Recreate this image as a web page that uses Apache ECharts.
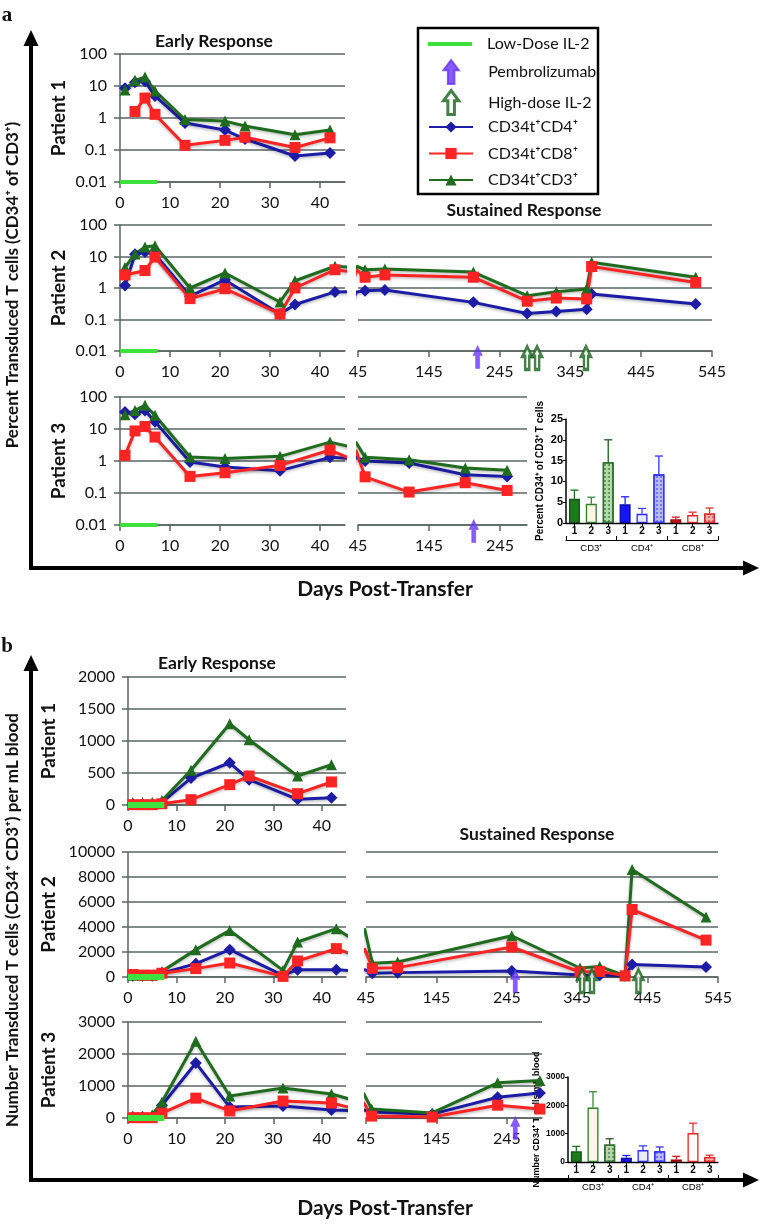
<!DOCTYPE html>
<html><head><meta charset="utf-8">
<script src="https://cdn.jsdelivr.net/npm/echarts@6/dist/echarts.min.js"></script>
<style>html,body{margin:0;padding:0;background:#fff}#c{width:767px;height:1226px}</style>
</head><body><div id="c"></div><script>
// ================= DATA =================
// Panel a : percent transduced T cells (CD34+ of CD3+), log scale
const aP1Days = [1, 3, 5, 7, 13, 21, 25, 35, 42];
const aP1CD4  = [8.5, 13, 14, 4.9, 0.7, 0.42, 0.22, 0.065, 0.08];
const aP1CD8  = [null, 1.6, 4.2, 1.3, 0.14, 0.2, 0.25, 0.12, 0.24];
const aP1CD3  = [7.5, 15, 19, 7, 0.9, 0.8, 0.56, 0.3, 0.42];

const aP2Days = [1, 3, 5, 7, 14, 21, 32, 35, 43, 55, 83, 208, 284, 325, 368, 375, 522];
const aP2CD4  = [1.2, 11.7, 14, 12, 0.55, 1.8, 0.15, 0.3, 0.75, 0.82, 0.86, 0.35, 0.155, 0.18, 0.21, 0.64, 0.31];
const aP2CD8  = [2.6, null, 3.6, 9.6, 0.46, 0.95, 0.15, 1.0, 3.8, 2.2, 2.6, 2.2, 0.38, 0.48, 0.45, 4.8, 1.5];
const aP2CD3  = [4.5, 12, 20, 22, 1.0, 3.0, 0.36, 1.7, 4.9, 3.8, 4.0, 3.2, 0.57, 0.76, 0.93, 6.6, 2.2];

const aP3Days = [1, 3, 5, 7, 14, 21, 32, 42, 55, 117, 196, 255];
const aP3CD4  = [34, 29, 38, 17, 0.93, 0.65, 0.5, 1.3, 1.0, 0.87, 0.37, 0.33];
const aP3CD8  = [1.5, 8.7, 12, 5.6, 0.33, 0.43, 0.73, 2.2, 0.32, 0.107, 0.21, 0.12];
const aP3CD3  = [28, 38, 55, 27, 1.33, 1.2, 1.4, 3.9, 1.3, 1.1, 0.6, 0.51];

// Panel b : number of transduced T cells per mL blood
const bP1Days = [1, 3, 5, 7, 13, 21, 25, 35, 42];
const bP1CD4  = [10, 10, 10, 40, 420, 660, 395, 89, 115];
const bP1CD8  = [5, 5, 5, 20, 83, 318, 453, 177, 360];
const bP1CD3  = [40, 40, 40, 70, 542, 1270, 1020, 453, 630];

const bP2Days = [1, 3, 5, 7, 14, 21, 32, 35, 43, 54, 90, 252, 349, 377, 413, 423, 528];
const bP2CD4  = [100, 100, 100, 300, 1070, 2190, 130, 590, 590, 300, 350, 480, 160, 150, 100, 1000, 800];
const bP2CD8  = [200, 150, 150, 300, 670, 1120, 50, 1280, 2270, 700, 750, 2400, 400, 450, 100, 5400, 2950];
const bP2CD3  = [150, 150, 150, 450, 2190, 3730, 530, 2800, 3870, 1100, 1200, 3300, 720, 850, 100, 8600, 4800];

const bP3Days = [1, 3, 5, 7, 14, 21, 32, 42, 53, 139, 232, 292];
const bP3CD4  = [30, 30, 30, 400, 1720, 340, 375, 250, 190, 120, 650, 780];
const bP3CD8  = [10, 10, 10, 150, 620, 220, 530, 470, 60, 30, 400, 280];
const bP3CD3  = [40, 40, 100, 500, 2400, 690, 940, 750, 280, 160, 1100, 1170];

// Treatments
const lowDoseDays = [0, 7.5];
const aP2PembroDays = [214];
const aP2HighDoseDays = [284, 298, 367];
const aP3PembroDays = [208];
const bP2PembroDays = [257];
const bP2HighDoseDays = [352, 366, 432];
const bP3PembroDays = [257];

// Inset bar charts
const barLabels = ['1', '2', '3', '1', '2', '3', '1', '2', '3'];
const barKeys = ['CD3-1', 'CD3-2', 'CD3-3', 'CD4-1', 'CD4-2', 'CD4-3', 'CD8-1', 'CD8-2', 'CD8-3'];
const groupLabels = ['CD3⁺', 'CD4⁺', 'CD8⁺'];
const insetAValues = [5.8, 4.6, 14.6, 4.5, 2.2, 11.7, 0.9, 1.9, 2.3];
const insetAErrors = [2.1, 1.6, 5.4, 1.8, 1.3, 4.4, 0.5, 0.7, 1.3];
const insetBValues = [380, 1920, 620, 150, 420, 380, 90, 1020, 180];
const insetBErrors = [170, 560, 200, 80, 150, 150, 110, 350, 60];

// Axis tick labels
const earlyTicks = [0, 10, 20, 30, 40];
const sustTicksLong = [45, 145, 245, 345, 445, 545];
const sustTicksShort = [45, 145, 245];

// ================= STYLE =================
const FONT = 'Lato, "Noto Sans", sans-serif';
const ARIAL = '"Liberation Sans", Arial, sans-serif';
const GC = '#5b6464';
const C4 = '#1c1ca6', C8 = '#ff2424', C3 = '#1f6c1f', LOWC = '#3ee23e', PEMC = '#6633ff';
const N4 = 'CD34t⁺CD4⁺', N8 = 'CD34t⁺CD8⁺', N3 = 'CD34t⁺CD3⁺';
const N_LOW = 'Low-Dose IL-2', N_PEM = 'Pembrolizumab', N_HD = 'High-dose IL-2';
const ARROW = 'path://M7,0 L14,9.5 L10,9.5 L10,22 L4,22 L4,9.5 L0,9.5 Z';

const G = [
  {left:120, top:54,  width:225, height:128},  //0 aP1 early
  {left:120, top:225, width:225, height:126},  //1 aP2 early
  {left:358, top:225, width:354, height:126},  //2 aP2 sustained
  {left:120, top:397, width:225, height:128},  //3 aP3 early
  {left:358, top:397, width:169, height:128},  //4 aP3 sustained
  {left:566, top:419, width:152, height:104},  //5 inset a
  {left:128, top:677, width:218, height:128},  //6 bP1 early
  {left:128, top:852, width:218, height:125},  //7 bP2 early
  {left:366, top:852, width:352, height:125},  //8 bP2 sustained
  {left:128, top:1022,width:218, height:96},   //9 bP3 early
  {left:366, top:1022,width:176, height:96},   //10 bP3 sustained
  {left:568, top:1077,width:150, height:85}    //11 inset b
];

const axisLineGray = {show:true, lineStyle:{color:GC, width:1.5}};
const lbl = (extra) => Object.assign({fontSize:16, color:'#111', fontFamily:FONT}, extra || {});

function earlyX(g){
  return {gridIndex:g, type:'value', min:0, max:45,
    axisLine:axisLineGray,
    axisTick:{show:true, length:6, customValues:earlyTicks, lineStyle:{color:GC, width:1.5}},
    axisLabel:lbl({customValues:earlyTicks, margin:13}),
    splitLine:{show:false}};
}
function sustX(g, max, ticks){
  return {gridIndex:g, type:'value', min:45, max:max,
    axisLine:axisLineGray,
    axisTick:{show:true, length:6, customValues:ticks, lineStyle:{color:GC, width:1.5}},
    axisLabel:lbl({customValues:ticks, margin:13}),
    splitLine:{show:false}};
}
function fmtNum(v){ return String(+(+v).toPrecision(3)); }
function yEarly(g, base, name, nameGap){
  const o = {gridIndex:g, name:name, nameLocation:'middle', nameRotate:90, nameGap:nameGap,
    nameTextStyle:{fontSize:19, fontWeight:'bold', color:'#111', fontFamily:FONT},
    axisLine:axisLineGray,
    axisTick:{show:true, length:6, lineStyle:{color:GC, width:1.5}},
    axisLabel:lbl({margin:13, formatter:fmtNum}),
    splitLine:{show:true, lineStyle:{color:GC, width:1.5}}};
  return Object.assign(o, base);
}
function ySust(g, base){
  return Object.assign({gridIndex:g, axisLine:{show:false}, axisTick:{show:false},
    axisLabel:{show:false}, splitLine:{show:true, lineStyle:{color:GC, width:1.5}}}, base);
}
const LOG = {type:'log', logBase:10, min:0.01, max:100};

const xAxis = [
  earlyX(0), earlyX(1), sustX(2, 545, sustTicksLong), earlyX(3), sustX(4, 283, sustTicksShort),
  null,
  earlyX(6), earlyX(7), sustX(8, 545, sustTicksLong), earlyX(9), sustX(10, 295, sustTicksShort),
  null
];
const yAxis = [
  yEarly(0, LOG, 'Patient 1', 52), yEarly(1, LOG, 'Patient 2', 52), ySust(2, LOG),
  yEarly(3, LOG, 'Patient 3', 52), ySust(4, LOG),
  null,
  yEarly(6, {type:'value', min:0, max:2000, interval:500}, 'Patient 1', 70),
  yEarly(7, {type:'value', min:0, max:10000, interval:2000}, 'Patient 2', 70),
  ySust(8, {type:'value', min:0, max:10000, interval:2000}),
  yEarly(9, {type:'value', min:0, max:3000, interval:1000}, 'Patient 3', 70),
  ySust(10, {type:'value', min:0, max:3000, interval:1000}),
  null
];

function insetX(g){
  return {gridIndex:g, type:'category', data:barKeys,
    axisLine:{show:true, lineStyle:{color:'#000', width:1.3}},
    axisTick:{show:true, alignWithLabel:true, length:3, lineStyle:{color:'#000'}},
    axisLabel:{formatter:(v, i) => barLabels[i], fontSize:10, fontWeight:'bold', color:'#000', fontFamily:ARIAL, margin:3, interval:0}};
}
function insetGroupX(g){
  return {gridIndex:g, type:'category', data:groupLabels, position:'bottom', offset:17,
    axisLine:{show:true, lineStyle:{color:'#000', width:1}},
    axisTick:{show:true, length:-4, lineStyle:{color:'#000'}},
    axisLabel:{fontSize:9.5, color:'#000', fontFamily:ARIAL, margin:3, interval:0}};
}
function insetY(g, max, interval, name, gap, fs, nfs){
  return {gridIndex:g, type:'value', min:0, max:max, interval:interval, name:name,
    nameLocation:'middle', nameRotate:90, nameGap:gap,
    nameTextStyle:{fontSize:nfs, fontWeight:'bold', color:'#000', fontFamily:ARIAL},
    axisLine:{show:true, lineStyle:{color:'#000', width:1.5}},
    axisTick:{show:true, length:3, lineStyle:{color:'#000'}},
    axisLabel:{fontSize:fs, fontWeight:'bold', color:'#000', fontFamily:ARIAL, margin:3, formatter:(v)=>String(v)},
    splitLine:{show:false}};
}
xAxis[5] = insetX(5); xAxis[11] = insetX(11);
yAxis[5] = insetY(5, 25, 5, 'Percent CD34⁺ of CD3⁺ T cells', 21, 11, 10);
yAxis[11] = insetY(11, 3000, 1000, 'Number CD34⁺ T cells/mL blood', 27, 8.5, 9);
xAxis.push(insetGroupX(5));   // 12
xAxis.push(insetGroupX(11));  // 13

// ================= SERIES =================
function pairs(days, vals){
  const out = [];
  days.forEach((d, i) => { if (vals[i] != null) out.push([d, vals[i]]); });
  return out;
}
const shadow = {shadowColor:'rgba(0,0,0,0.28)', shadowBlur:3, shadowOffsetY:1.5};
function mk(name, color, symbol, size, data, ai){
  return {type:'line', name:name, xAxisIndex:ai, yAxisIndex:ai, data:data,
    symbol:symbol, symbolSize:size, clip:true, z:3,
    lineStyle:Object.assign({color:color, width:3}, shadow),
    itemStyle:{color:color}, emphasis:{disabled:true}, animation:false};
}
function trio(days, cd4, cd8, cd3, ai){
  return [
    mk(N4, C4, 'diamond', 12, pairs(days, cd4), ai),
    mk(N3, C3, 'triangle', 11, pairs(days, cd3), ai),
    mk(N8, C8, 'rect', 11, pairs(days, cd8), ai)
  ];
}
function lowDose(ai, y, w){
  return {type:'line', name:N_LOW, xAxisIndex:ai, yAxisIndex:ai,
    data:lowDoseDays.map(d => [d, y]), symbol:'none', z:4,
    lineStyle:{color:LOWC, width:w}, itemStyle:{color:LOWC}, animation:false, clip:false};
}
function arrows(name, ai, days, y, hollow, off){
  return {type:'scatter', name:name, xAxisIndex:ai, yAxisIndex:ai,
    data:days.map(d => [d, y]), symbol:ARROW, symbolSize:[15, 23], symbolKeepAspect:true,
    symbolOffset:[0, off], clip:false, z:5,
    itemStyle: hollow ? {color:'#fff', borderColor:'#17601a', borderWidth:3}
                      : {color:PEMC, borderColor:PEMC, borderWidth:0.5},
    emphasis:{disabled:true}, animation:false};
}
function errRender(params, api){
  const i = api.value(0), v = api.value(1), e = api.value(2);
  const p0 = api.coord([i, v]), p1 = api.coord([i, v + e]);
  const col = api.visual('color');
  return {type:'group', children:[
    {type:'line', shape:{x1:p0[0], y1:p0[1], x2:p1[0], y2:p1[1]}, style:{stroke:col, lineWidth:1.3}},
    {type:'line', shape:{x1:p1[0]-4, y1:p1[1], x2:p1[0]+4, y2:p1[1]}, style:{stroke:col, lineWidth:1.3}}
  ]};
}
const dec = (c) => ({symbol:'rect', symbolSize:1, dashArrayX:[2, 2], dashArrayY:[2, 2], color:c});
const barStyles = [
  {color:'#1d7a1d', borderColor:'#145214'},
  {color:'#fff6e8', borderColor:'#2c7c2c'},
  {color:'#b4d6a8', borderColor:'#2c6c2c', decal:dec('rgba(40,100,40,0.55)')},
  {color:'#1414ff', borderColor:'#0808a0'},
  {color:'#ebe9ff', borderColor:'#2a2aff'},
  {color:'#b8b8ff', borderColor:'#3030ff', decal:dec('rgba(50,50,220,0.5)')},
  {color:'#cc1414', borderColor:'#991010'},
  {color:'#ffffff', borderColor:'#ee2222'},
  {color:'#f6b0b0', borderColor:'#e02a2a', decal:dec('rgba(200,40,40,0.5)')}
];
const errColors = ['#1d6a1d','#3a8a3a','#1d5a1d','#2020ff','#4040ff','#3030ff','#cc2020','#ee3030','#e03030'];
function insetSeries(ai, vals, errs){
  return [
    {type:'bar', xAxisIndex:ai, yAxisIndex:ai, barWidth:11, animation:false,
      data:vals.map((v, i) => ({value:v, itemStyle:Object.assign({borderWidth:1.3}, barStyles[i])})),
      emphasis:{disabled:true}},
    {type:'custom', xAxisIndex:ai, yAxisIndex:ai, renderItem:errRender, animation:false, z:3,
      data:vals.map((v, i) => ({value:[i, v, errs[i]], itemStyle:{color:errColors[i]}}))}
  ];
}

const series = [].concat(
  trio(aP1Days, aP1CD4, aP1CD8, aP1CD3, 0),
  trio(aP2Days, aP2CD4, aP2CD8, aP2CD3, 1),
  trio(aP2Days, aP2CD4, aP2CD8, aP2CD3, 2),
  trio(aP3Days, aP3CD4, aP3CD8, aP3CD3, 3),
  trio(aP3Days, aP3CD4, aP3CD8, aP3CD3, 4),
  trio(bP1Days, bP1CD4, bP1CD8, bP1CD3, 6),
  trio(bP2Days, bP2CD4, bP2CD8, bP2CD3, 7),
  trio(bP2Days, bP2CD4, bP2CD8, bP2CD3, 8),
  trio(bP3Days, bP3CD4, bP3CD8, bP3CD3, 9),
  trio(bP3Days, bP3CD4, bP3CD8, bP3CD3, 10),
  [lowDose(0, 0.01, 4), lowDose(1, 0.01, 4), lowDose(3, 0.01, 4),
   lowDose(6, 0, 6), lowDose(7, 0, 6), lowDose(9, 0, 6)],
  [arrows(N_PEM, 2, aP2PembroDays, 0.01, false, 6),
   arrows(N_HD, 2, aP2HighDoseDays, 0.01, true, 7),
   arrows(N_PEM, 4, aP3PembroDays, 0.01, false, 6),
   arrows(N_PEM, 8, bP2PembroDays, 0, false, 4),
   arrows(N_HD, 8, bP2HighDoseDays, 0, true, 4),
   arrows(N_PEM, 10, bP3PembroDays, 0, false, 10)],
  insetSeries(5, insetAValues, insetAErrors),
  insetSeries(11, insetBValues, insetBErrors)
);

// ================= LEGEND =================
const legTxt = {fontSize:16, color:'#111', fontFamily:FONT, lineHeight:18, padding:[0, 0, 0, 10]};
const legend = [
  {orient:'vertical', left:428, top:35, itemWidth:44, itemHeight:4, icon:'rect',
   data:[N_LOW], textStyle:legTxt, selectedMode:false, padding:0},
  {orient:'vertical', left:442, top:59, itemWidth:44, itemHeight:24, itemGap:4,
   data:[{name:N_PEM}, {name:N_HD, itemStyle:{borderWidth:3, borderColor:'#17601a'}}],
   textStyle:legTxt, selectedMode:false, padding:0, symbolKeepAspect:true},
  {orient:'vertical', left:428, top:118, itemWidth:44, itemHeight:14, itemGap:8.5,
   data:[N4, N8, N3], textStyle:legTxt, selectedMode:false, padding:0}
];

// ================= DECORATION =================
function frame(yTop, yBot){
  return [
    {type:'line', shape:{x1:31, y1:yTop+10, x2:31, y2:yBot}, style:{stroke:'#000', lineWidth:4}},
    {type:'polygon', shape:{points:[[31, yTop-2], [23.5, yTop+14], [38.5, yTop+14]]}, style:{fill:'#000'}},
    {type:'line', shape:{x1:29, y1:yBot, x2:746, y2:yBot}, style:{stroke:'#000', lineWidth:4}},
    {type:'polygon', shape:{points:[[759, yBot], [743, yBot-7.5], [743, yBot+7.5]]}, style:{fill:'#000'}}
  ];
}
function txt(x, y, s, font, rot){
  return {type:'text', x:x, y:y, rotation:rot || 0,
    style:{text:s, font:font, fill:'#111', align:'center', verticalAlign:'middle'}};
}
const boldT = 'bold 17.5px ' + FONT, bold17 = 'bold 17px ' + FONT;
const graphic = [].concat(
  frame(32, 568), frame(657, 1180),
  [
    txt(7, 16, 'a', 'bold 21px "Liberation Serif", serif'),
    txt(7, 647, 'b', 'bold 21px "Liberation Serif", serif'),
    txt(13, 285, 'Percent Transduced T cells (CD34⁺ of CD3⁺)', bold17, Math.PI/2),
    txt(13, 920, 'Number Transduced T cells (CD34⁺ CD3⁺) per mL blood', bold17, Math.PI/2),
    txt(385, 589, 'Days Post-Transfer', 'bold 21px ' + FONT),
    txt(385, 1208, 'Days Post-Transfer', 'bold 21px ' + FONT),
    txt(214, 41, 'Early Response', boldT),
    txt(217, 663, 'Early Response', boldT),
    txt(524, 210, 'Sustained Response', boldT),
    txt(537, 834, 'Sustained Response', boldT),
    {type:'rect', shape:{x:418, y:28, width:180, height:166}, style:{fill:'none', stroke:'#000', lineWidth:2.5}}
  ]
);

const chart = echarts.init(document.getElementById('c'));
chart.setOption({
  animation:false,
  backgroundColor:'#fff',
  grid:G.map(g => Object.assign({containLabel:false}, g)),
  xAxis:xAxis, yAxis:yAxis, series:series, legend:legend, graphic:graphic
});
</script></body></html>
